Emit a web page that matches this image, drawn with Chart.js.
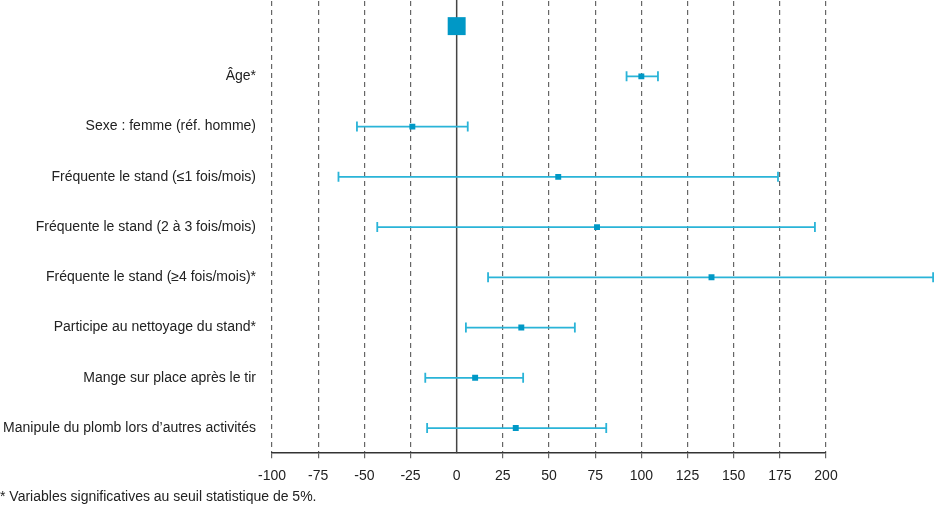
<!DOCTYPE html>
<html>
<head>
<meta charset="utf-8">
<script src="https://cdn.jsdelivr.net/npm/chart.js@4/dist/chart.umd.min.js"></script>
<style>
  html, body { margin: 0; padding: 0; background: #fff; }
  #wrap { width: 934px; height: 508px; position: relative; }
</style>
</head>
<body>
<div id="wrap"><canvas id="forest"></canvas></div>
<script>
// row labels, top row is the reference marker (no label)
const categories = [
  '',
  'Âge*',
  'Sexe : femme (réf. homme)',
  'Fréquente le stand (≤1 fois/mois)',
  'Fréquente le stand (2 à 3 fois/mois)',
  'Fréquente le stand (≥4 fois/mois)*',
  'Participe au nettoyage du stand*',
  'Mange sur place après le tir',
  'Manipule du plomb lors d’autres activités',
];
// estimates and confidence bounds, one per labelled row
const estimates = [100, -24, 55, 76, 138, 35, 10, 32];
const lower = [92, -54, -64, -43, 17, 5, -17, -16];
const upper = [109, 6, 174, 194, 258, 64, 36, 81];
const refValue = 0;
const xMin = -100;
const xMax = 200;
const xStep = 25;
const footnote = '* Variables significatives au seuil statistique de 5%.';

const FONT = '"Liberation Sans", Arial, sans-serif';
const MARK = '#0098c6';
const BAR = '#2ab4d8';

const errorBars = {
  id: 'errorBars',
  beforeDatasetsDraw(chart) {
    const { ctx, chartArea } = chart;
    const x = chart.scales.x;
    const y = chart.scales.y;
    ctx.save();
    // solid zero line
    const x0 = x.getPixelForValue(refValue);
    ctx.strokeStyle = '#444';
    ctx.lineWidth = 1.5;
    ctx.beginPath();
    ctx.moveTo(x0, 0);
    ctx.lineTo(x0, chartArea.bottom);
    ctx.stroke();
    // whiskers
    ctx.strokeStyle = BAR;
    ctx.lineWidth = 1.8;
    estimates.forEach((_, i) => {
      const py = y.getPixelForValue(i + 1);
      const a = x.getPixelForValue(lower[i]);
      const b = x.getPixelForValue(upper[i]);
      ctx.beginPath();
      ctx.moveTo(a, py);
      ctx.lineTo(b, py);
      ctx.moveTo(a, py - 5);
      ctx.lineTo(a, py + 5);
      ctx.moveTo(b, py - 5);
      ctx.lineTo(b, py + 5);
      ctx.stroke();
    });
    ctx.restore();
  },
};

new Chart(document.getElementById('forest'), {
  type: 'scatter',
  data: {
    labels: categories,
    datasets: [
      {
        data: [{ x: refValue, y: categories[0] }],
        pointStyle: 'rect',
        pointRadius: 12.7,
        backgroundColor: MARK,
        borderWidth: 0,
      },
      {
        data: estimates.map((v, i) => ({ x: v, y: categories[i + 1] })),
        pointStyle: 'rect',
        pointRadius: 4.2,
        backgroundColor: MARK,
        borderWidth: 0,
      },
    ],
  },
  options: {
    responsive: true,
    maintainAspectRatio: false,
    animation: false,
    layout: { autoPadding: false, padding: { top: 1, right: 108, left: 0, bottom: 0 } },
    plugins: {
      legend: { display: false },
      tooltip: { enabled: false },
      title: {
        display: true,
        position: 'bottom',
        align: 'start',
        text: footnote,
        color: '#222',
        font: { family: FONT, size: 14, weight: 'normal' },
        padding: { top: 7, bottom: 2 },
      },
    },
    scales: {
      x: {
        type: 'linear',
        min: xMin,
        max: xMax,
        afterFit: (s) => { s.height = 29; },
        ticks: {
          stepSize: xStep,
          color: '#222',
          padding: 10,
          font: { family: FONT, size: 14 },
        },
        grid: {
          color: (c) => (c.tick && c.tick.value === refValue ? 'rgba(0,0,0,0)' : '#666'),
          lineWidth: 1.2,
          tickLength: 5,
        },
        border: { display: true, color: '#333', width: 1.5, dash: [5, 4] },
      },
      y: {
        type: 'category',
        labels: categories,
        offset: true,
        afterFit: (s) => {
          s.width = 272;
          s.paddingTop = 0;
          s.paddingBottom = 0;
        },
        ticks: {
          color: '#222',
          padding: 16,
          font: { family: FONT, size: 14 },
        },
        grid: { display: false, drawTicks: false },
        border: { display: false },
      },
    },
  },
  plugins: [errorBars],
});
</script>
</body>
</html>
